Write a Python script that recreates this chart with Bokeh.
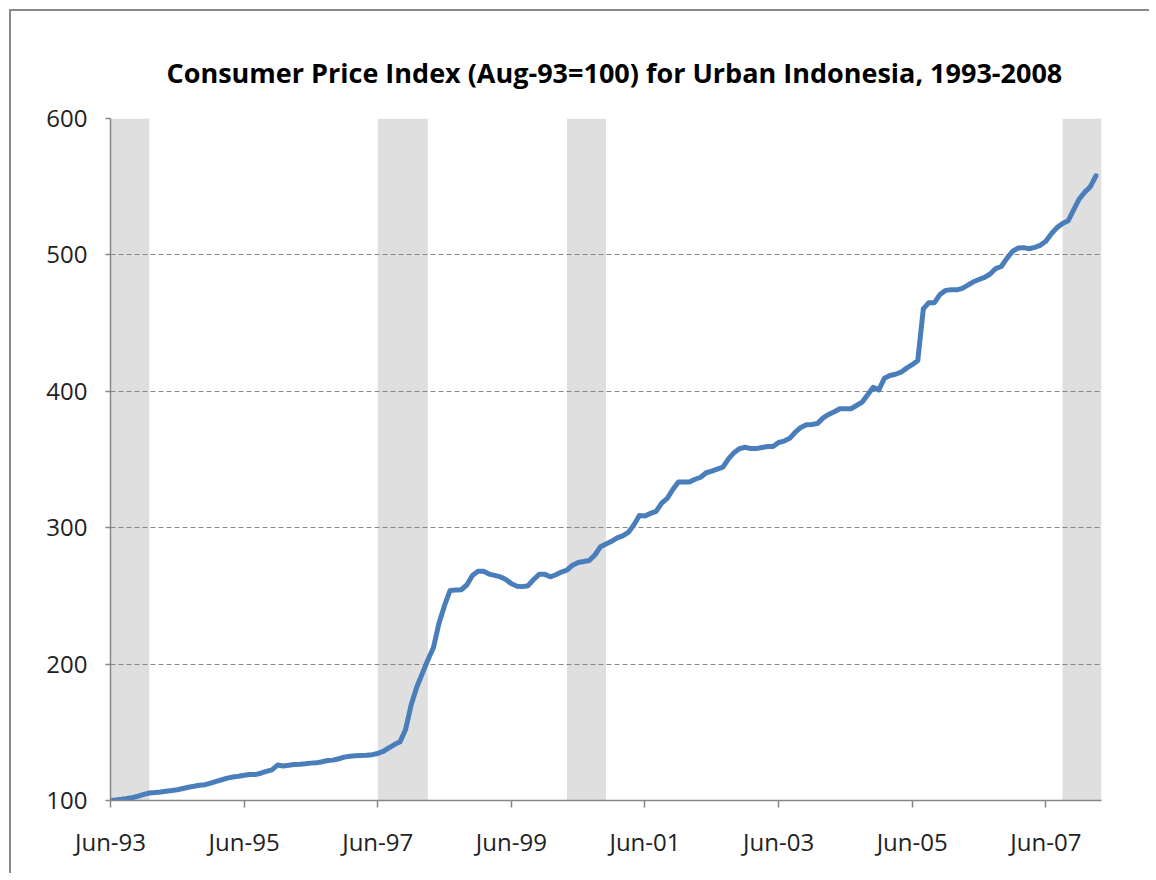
from bokeh.plotting import figure
from bokeh.models import Range1d, FixedTicker
from bokeh.embed import file_html
from bokeh.resources import INLINE

# Monthly CPI values, Jun-93 .. Mar-08 (Aug-93 = 100)
cpi = [
    100.0, 100.4, 100.9, 101.5, 102.2, 103.2, 104.5, 105.5, 105.8, 106.2, 106.8, 107.3,
    107.9, 108.8, 109.7, 110.4, 111.2, 111.6, 112.8, 114.0, 115.2, 116.4, 117.2, 117.8,
    118.5, 119.0, 119.0, 120.0, 121.3, 122.5, 126.0, 125.3, 125.8, 126.4, 126.6, 126.9,
    127.4, 127.6, 128.4, 129.3, 129.6, 130.6, 131.8, 132.4, 132.8, 133.0, 133.1, 133.6,
    134.5, 136.0, 138.6, 141.0, 143.0, 152.0, 170.0, 183.0, 193.0, 203.0, 212.0, 230.0,
    243.0, 254.0, 254.3, 254.5, 258.0, 265.0, 268.0, 268.0, 266.0, 265.0, 264.0, 262.0,
    259.0, 257.0, 256.8, 257.5, 262.0, 265.8, 265.8, 264.0, 265.5, 267.5, 269.0, 272.5,
    274.5, 275.2, 276.0, 280.0, 286.0, 288.0, 290.0, 292.5, 294.0, 296.5, 302.0, 309.0,
    308.6, 310.5, 312.0, 318.0, 321.5, 328.0, 333.5, 333.5, 333.5, 335.5, 337.0, 340.3,
    341.5, 343.0, 344.4, 350.5, 355.0, 358.0, 359.0, 358.0, 358.0, 358.8, 359.5, 359.5,
    362.5, 363.5, 365.5, 370.0, 373.5, 375.5, 375.7, 376.5, 380.5, 383.0, 385.0, 387.2,
    387.2, 387.2, 389.6, 392.0, 397.5, 403.0, 401.0, 409.5, 411.6, 412.5, 414.0, 417.0,
    419.5, 422.6, 460.5, 465.0, 465.0, 471.0, 474.0, 474.4, 474.4, 475.5, 477.8, 480.3,
    482.0, 483.5, 486.0, 490.0, 491.5, 497.5, 502.5, 505.0, 505.3, 504.5, 505.5, 507.0,
    510.0, 515.5, 520.0, 523.0, 525.0, 533.0, 541.0, 546.0, 550.0, 558.0,
]
months = list(range(len(cpi)))  # month index, 0 = Jun-93

tick_months = [0, 24, 48, 72, 96, 120, 144, 168]
tick_labels = ["Jun-93", "Jun-95", "Jun-97", "Jun-99", "Jun-01", "Jun-03", "Jun-05", "Jun-07"]
y_ticks = [100, 200, 300, 400, 500, 600]

# shaded survey periods (month index)
band_start = [0, 48, 82, 171]
band_end = [7, 57, 89, 178]

FONT = "Open Sans"

p = figure(
    width=1140, height=864,
    output_backend="svg", toolbar_location=None,
    x_range=Range1d(0, 178), y_range=Range1d(100, 600),
    min_border_left=99, min_border_right=50, min_border_bottom=75, min_border_top=107,
    title="Consumer Price Index (Aug-93=100) for Urban Indonesia, 1993-2008",
    styles={"border-left": "2px solid #8a8a8a", "border-top": "2px solid #8a8a8a",
            "margin-left": "9px", "margin-top": "9px"},
)
p.title.text_font = FONT
p.title.text_font_size = "27px"
p.title.text_font_style = "bold"
p.title.text_color = "#000000"
p.title.align = "left"
p.title.offset = 56
p.title.standoff = 56

p.outline_line_color = None
p.background_fill_color = "white"
p.border_fill_color = "white"

p.quad(left=band_start, right=band_end, bottom=100, top=600,
       fill_color="#dfdfdf", line_color=None, level="image")

p.line(months, cpi, line_color="#4a7ebb", line_width=5, line_join="round", line_cap="round")

p.xgrid.visible = False
p.ygrid.grid_line_color = "#888888"
p.ygrid.grid_line_dash = "5 3"
p.ygrid.grid_line_width = 1

p.yaxis.ticker = FixedTicker(ticks=y_ticks)
p.xaxis.ticker = FixedTicker(ticks=tick_months)
p.xaxis.major_label_overrides = {m: l for m, l in zip(tick_months, tick_labels)}

for ax in (p.xaxis, p.yaxis):
    ax.axis_line_color = "#868686"
    ax.axis_line_width = 1.5
    ax.major_tick_line_color = "#868686"
    ax.major_tick_line_width = 1.5
    ax.minor_tick_line_color = None
    ax.major_tick_in = 0
    ax.major_label_text_font = FONT
    ax.major_label_text_font_size = "24px"
    ax.major_label_text_color = "#222222"

p.yaxis.major_tick_out = 5
p.yaxis.major_label_standoff = 18
p.xaxis.major_tick_out = 7
p.xaxis.major_label_standoff = 17

open("out.html", "w").write(file_html(p, INLINE))
